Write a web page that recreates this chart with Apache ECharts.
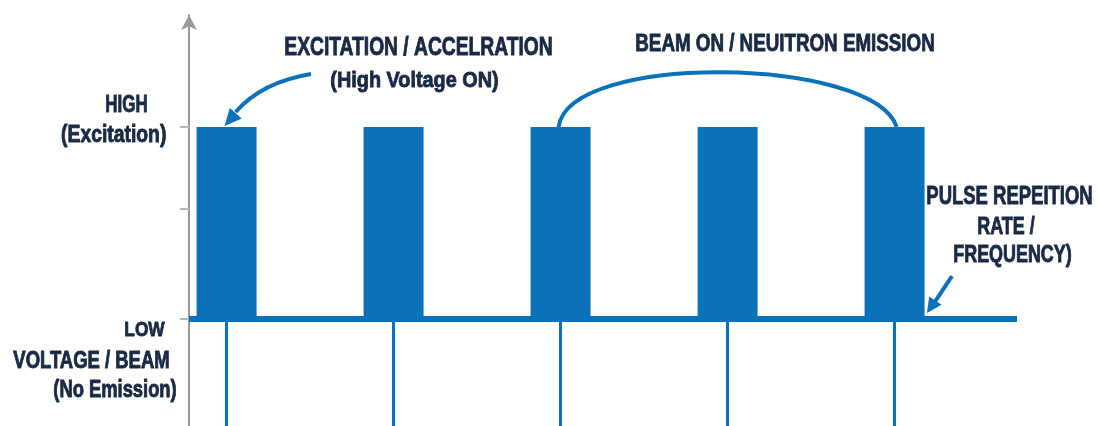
<!DOCTYPE html>
<html><head><meta charset="utf-8">
<script src="https://cdn.jsdelivr.net/npm/echarts@6/dist/echarts.min.js"></script>
<style>html,body{margin:0;padding:0;background:#fff}#c{width:1097px;height:426px}</style>
</head><body><div id="c"></div>
<script>
// pulse train data
const pulseTimes = [1, 2, 3, 4, 5];          // pulse centres (period units)
const pulseLevels = [1, 1, 1, 1, 1];         // HIGH = 1, LOW = 0
const levelTicks = [0, 0.573, 1];            // LOW, mid, HIGH tick marks
const highLabel = ['HIGH', '(Excitation)'];
const lowLabel = ['LOW', 'VOLTAGE / BEAM', '(No Emission)'];
const excitationLabel = ['EXCITATION / ACCELRATION', '(High Voltage ON)'];
const beamLabel = 'BEAM ON / NEUITRON EMISSION';
const prfLabel = ['PULSE REPEITION', 'RATE /', 'FREQUENCY)'];

const BLUE = '#0b71b9', TEXT = '#1b2a44', GRAY = '#9a9a9a';
const FONT = "'Liberation Sans',Arial,sans-serif";
const X_MIN = 0.775, X_MAX = 5.733, Y_MIN = -0.557, Y_MAX = 1.583;

const chart = echarts.init(document.getElementById('c'), null, {renderer: 'canvas'});
chart.setOption({
  animation: false,
  backgroundColor: '#fff',
  grid: {left: 189, right: 80, top: 15, bottom: 0},
  xAxis: {
    type: 'value', min: X_MIN, max: X_MAX,
    axisLine: {onZero: true, lineStyle: {color: BLUE, width: 6, cap: 'butt'}},
    axisTick: {show: false}, axisLabel: {show: false}, splitLine: {show: false}
  },
  yAxis: {
    type: 'value', min: Y_MIN, max: Y_MAX,
    axisLine: {show: true, symbol: ['none', 'arrow'], symbolSize: [12, 15],
      lineStyle: {color: GRAY, width: 2}},
    axisTick: {show: true, customValues: levelTicks, length: 9, lineStyle: {color: '#b5b5b5', width: 2}},
    axisLabel: {show: false}, splitLine: {show: false}
  },
  series: [{
    type: 'bar',
    barWidth: 60,
    itemStyle: {color: BLUE},
    data: pulseTimes.map((t, i) => [t, pulseLevels[i]]),
    markLine: {
      silent: true, symbol: ['none', 'none'], label: {show: false},
      lineStyle: {color: BLUE, width: 3, type: 'solid'},
      data: pulseTimes.map(t => [{coord: [t, 0]}, {coord: [t, Y_MIN]}])
    }
  }]
});

function px(x, y) { return chart.convertToPixel({gridIndex: 0}, [x, y]); }
function head(tip, from, len, wid) {
  const dx = tip[0] - from[0], dy = tip[1] - from[1];
  const d = Math.hypot(dx, dy), ux = dx / d, uy = dy / d;
  const bx = tip[0] - ux * len, by = tip[1] - uy * len;
  return {type: 'polygon', shape: {points: [tip, [bx - uy * wid / 2, by + ux * wid / 2], [bx + uy * wid / 2, by - ux * wid / 2]]},
    style: {fill: BLUE}};
}
const mctx = document.createElement('canvas').getContext('2d');
// condensed bold text: scaled horizontally to the width it takes in the picture
function txt(s, cx, cy, size, width) {
  const font = 'bold ' + size + 'px ' + FONT;
  mctx.font = font;
  const w = mctx.measureText(s).width + 0.8;
  return {type: 'text', x: cx, y: cy + size * 0.04, scaleX: width / w,
    style: {text: s, x: 0, y: 0, fill: TEXT, font: font, stroke: TEXT, lineWidth: 0.9,
      textAlign: 'center', textVerticalAlign: 'middle', align: 'center', verticalAlign: 'middle'}};
}

const p1 = px(pulseTimes[0], pulseLevels[0]);
const p3 = px(pulseTimes[2], pulseLevels[2]);
const p5 = px(pulseTimes[4], pulseLevels[4]);
const lowEnd = px(X_MAX, 0);

const g = [];
// excitation arrow
const tip1 = [p1[0] - 2, p1[1] - 1];
g.push({type: 'bezierCurve', shape: {x1: 311, y1: 74, cpx1: 262, cpy1: 82, x2: tip1[0] + 11, y2: tip1[1] - 14},
  style: {stroke: BLUE, lineWidth: 4, fill: null}});
g.push(head(tip1, [tip1[0] + 14, tip1[1] - 16], 17, 16));
// beam-on arc
g.push({type: 'bezierCurve', shape: {x1: p3[0] - 2, y1: p3[1], cpx1: p3[0] + 8, cpy1: p3[1] - 76,
  cpx2: p5[0] - 20, cpy2: p5[1] - 70, x2: p5[0] + 2, y2: p5[1]},
  style: {stroke: BLUE, lineWidth: 4, fill: null}});
// PRF arrow
const tip2 = [lowEnd[0] - 90, lowEnd[1] - 6];
const from2 = [tip2[0] + 25, tip2[1] - 37];
g.push({type: 'line', shape: {x1: from2[0], y1: from2[1], x2: tip2[0] + 7, y2: tip2[1] - 10},
  style: {stroke: BLUE, lineWidth: 4}});
g.push(head(tip2, from2, 15, 15));

// texts
g.push(txt(excitationLabel[0], 418.5, 47.5, 25, 269));
g.push(txt(excitationLabel[1], 414.5, 80, 22.5, 169));
g.push(txt(beamLabel, 785, 43.5, 24, 300));
g.push(txt(highLabel[0], 126.5, 105, 23, 43));
g.push(txt(highLabel[1], 113.7, 134.5, 23, 106));
g.push(txt(lowLabel[0], 144.5, 329, 21, 41));
g.push(txt(lowLabel[1], 91.5, 361, 23, 157));
g.push(txt(lowLabel[2], 115, 389.5, 23, 124));
g.push(txt(prfLabel[0], 1009.5, 196, 25, 167));
g.push(txt(prfLabel[1], 1006, 226, 24, 58));
g.push(txt(prfLabel[2], 1012.5, 255, 23, 119));

chart.setOption({graphic: {elements: g}});
</script></body></html>
